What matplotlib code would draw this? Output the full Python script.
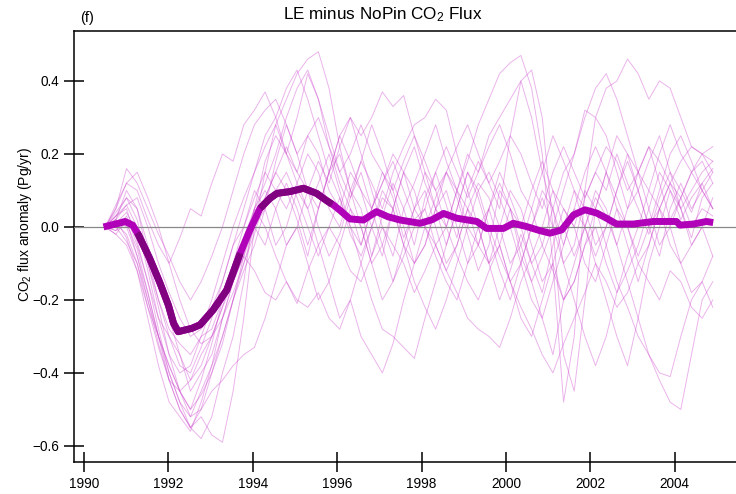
import matplotlib.pyplot as plt
import numpy as np

plt.rcParams["font.family"] = ["Liberation Sans", "DejaVu Sans"]
plt.rcParams["mathtext.fontset"] = "custom"
plt.rcParams["mathtext.rm"] = "Liberation Sans"
plt.rcParams["mathtext.it"] = "Liberation Sans:italic"

# ensemble members, roughly quarterly from 1990.5 to 2004.9, in hundredths of Pg/yr
member_start = 1990.5
member_end = 2004.9
members_cpg = [
    [0, 3, 5, -4, -15, -28, -40, -48, -55, -52, -57, -59, -45, -25, 0, 15, 28, 35, 42, 46,
     48, 38, 22, 10, 5, -8, 3, 12, 5, -5, 8, 15, 6, -3, 10, 18, 12, 5, 25, 40,
     30, 15, 5, -10, -5, 8, 15, 10, 20, 12, 5, -2, 8, 15, 10, 4, 12, 16],
    [0, -2, 2, -8, -20, -32, -42, -50, -55, -58, -52, -40, -30, -15, 5, 12, 20, 30, 38, 43,
     35, 25, 15, 8, 18, 28, 20, 10, 0, -10, -5, 5, 15, 8, -2, -12, -5, 10, 5, -8,
     -15, -25, -35, -20, -10, 0, 8, 3, -5, 5, 15, 22, 12, 2, 8, 15, 18, 12],
    [0, 2, -3, -12, -25, -38, -48, -52, -56, -48, -38, -30, -20, -10, -2, 8, 15, 10, 2, -8,
     5, 15, 25, 30, 20, 10, 0, -8, 5, 12, 20, 28, 18, 10, 18, 28, 35, 42, 45, 47,
     38, 20, -10, -48, -30, 10, 30, 25, 15, 5, 10, 0, -8, 5, 12, 5, 10, 15],
    [0, 4, 8, 2, -10, -22, -35, -45, -50, -46, -40, -32, -20, -8, 5, 18, 25, 20, 30, 42,
     35, 22, 12, 5, -5, 5, 15, 8, -3, 5, 15, 10, 0, 10, 20, 15, 25, 30, 35, 40,
     43, 30, 0, -35, -45, -20, 5, 15, 25, 20, 10, 18, 25, 15, 5, 10, 15, 18],
    [0, 6, 12, 10, 2, -5, -10, -3, 5, 3, 12, 20, 18, 28, 32, 37, 30, 20, 15, 25,
     20, 10, 5, 15, 10, 0, -8, 5, 15, 22, 12, 5, -5, 5, 15, 8, -2, -12, -20, -10,
     0, 10, 5, -5, 5, 15, 22, 15, 5, -5, -15, -5, 5, 12, 5, -3, 8, 12],
    [0, 2, 10, 5, -8, -20, -30, -38, -40, -33, -25, -15, -5, 5, 15, 25, 30, 38, 43, 35,
     25, 15, 20, 10, 0, -10, -20, -15, -5, 5, 10, 0, -10, -5, 5, 12, 8, 0, -10, -5,
     5, 15, 25, 18, 10, 0, -10, -20, -30, -38, -25, -10, 0, 10, 5, -5, 0, 8],
    [0, 1, -2, -10, -22, -33, -42, -45, -42, -35, -30, -22, -12, -3, 5, 10, 5, -5, 0, 10,
     18, 12, 22, 30, 25, 30, 37, 33, 36, 25, 15, 5, 0, 10, 5, -5, -10, 0, 10, 5,
     -5, -15, -10, 0, 10, 5, -5, 0, 10, 20, 15, 5, -5, 0, 8, 15, 10, 5],
    [0, 3, 6, 0, -12, -25, -35, -40, -38, -30, -22, -15, -5, 0, 8, 15, 10, 5, 12, 20,
     15, 5, 0, 10, 18, 12, 5, 15, 22, 28, 30, 35, 32, 20, 10, 0, -10, -5, 5, 0,
     -10, -5, 5, 15, 20, 30, 38, 42, 35, 25, 15, 10, 20, 28, 20, 15, 20, 22],
    [0, -1, 3, -5, -15, -25, -30, -35, -45, -40, -35, -25, -18, -10, 0, -5, 5, 12, 5, -5,
     5, 15, 8, -2, -8, 0, 10, 5, -5, -10, 0, 8, 15, 10, 0, -5, 5, 12, 5, -5,
     -15, -8, 0, 10, 20, 32, 30, 38, 40, 46, 42, 35, 40, 38, 30, 22, 20, 18],
    [0, 2, 0, -8, -18, -30, -38, -45, -50, -42, -32, -20, -10, 0, 10, 5, -5, 0, 10, 5,
     -5, -15, -25, -20, -30, -35, -40, -32, -20, -10, -5, 5, 10, 0, -10, -5, 5, 15, 8, 0,
     10, 18, 10, 0, -8, 0, 10, 5, -5, -15, -25, -35, -42, -48, -50, -35, -20, -15],
    [0, 1, 4, -2, -10, -20, -28, -32, -35, -30, -28, -20, -12, -5, 0, 5, 10, 15, 8, 0,
     -8, 0, 8, 0, -10, -20, -28, -30, -33, -36, -25, -15, -5, 5, 15, 10, 0, -8, -15, -10,
     0, 8, 0, -10, -20, -30, -38, -30, -18, -8, 0, 10, 5, -5, -10, -5, 0, -8],
    [0, -2, -5, -12, -22, -30, -38, -45, -52, -50, -45, -42, -38, -35, -33, -25, -15, -5, 0, -10,
     -20, -15, -5, 5, 0, -10, -5, 5, 15, 10, 0, -8, -15, -20, -10, 0, 5, -5, -15, -25,
     -30, -20, -10, -20, -15, -5, 5, 15, 8, 0, -10, -5, 5, 0, -10, -18, -15, -22],
    [0, 3, 8, 5, -5, -15, -25, -35, -42, -38, -30, -22, -15, -8, 0, 8, 15, 22, 15, 10,
     5, 15, 25, 18, 10, 5, 12, 20, 15, 5, 0, -5, -12, -18, -25, -28, -30, -33, -25, -15,
     -8, 0, 10, 5, 0, 10, 5, -5, -15, -22, -30, -35, -40, -41, -30, -20, -15, -8],
    [0, 5, 12, 15, 8, 0, -10, -20, -28, -32, -30, -25, -15, -5, 5, 0, -8, -15, -20, -22,
     -18, -25, -28, -20, -10, 0, 8, 5, -5, -15, -22, -28, -20, -10, 0, 10, 15, 8, 0, -10,
     -20, -25, -15, -5, 5, 0, -8, 0, 10, 18, 10, 0, 5, 12, 8, 0, 5, 3],
    [0, 5, 16, 12, 5, -2, -8, -15, -20, -15, -8, 0, 10, 20, 28, 32, 35, 28, 20, 25,
     30, 22, 15, 20, 28, 20, 15, 10, 18, 25, 18, 10, 15, 22, 28, 20, 12, 18, 25, 20,
     12, 5, 15, 22, 15, 8, 15, 22, 18, 10, 15, 22, 18, 12, 18, 22, 20, 15],
    [0, 0, -4, -10, -20, -30, -40, -48, -52, -45, -38, -25, -15, -8, -12, -18, -20, -15, -21, -12,
     -5, 0, -5, -12, -15, -8, 0, -5, -10, -18, -12, -5, 0, -8, -15, -20, -12, -5, -15, -22,
     -28, -35, -40, -32, -25, -18, -10, -15, -22, -18, -10, -15, -20, -12, -15, -22, -25, -20],
    [0, 2, 6, 8, 0, -10, -18, -25, -30, -28, -20, -10, 0, 8, 15, 22, 28, 20, 12, 5,
     12, 20, 10, 0, -5, 5, 12, 18, 10, 2, 5, 15, 22, 15, 8, 15, 22, 28, 20, 10,
     5, -5, -12, -20, -15, -5, 0, -10, -18, -12, -5, 5, 15, 10, 2, 8, 12, 5],
    [0, -1, 1, -6, -18, -30, -42, -50, -55, -50, -40, -30, -20, -12, -5, 5, 18, 28, 20, 10,
     0, -8, -2, 8, 15, 5, -5, -15, -8, 0, 5, -5, -12, -5, 5, 0, -10, -20, -12, -2,
     -10, -18, -5, 5, 0, -10, -15, -5, 5, 0, -8, 0, 10, 20, 25, 18, 10, 5],
]

# ensemble mean (Pg/yr)
mean_year = [1990.46, 1990.75, 1990.97, 1991.15, 1991.29, 1991.55, 1991.8, 1992.0,
             1992.12, 1992.23, 1992.4, 1992.55, 1992.75, 1993.06, 1993.38, 1993.7,
             1993.93, 1994.17, 1994.4, 1994.57, 1994.88, 1995.2, 1995.51, 1995.75,
             1995.91, 1996.07, 1996.3, 1996.62, 1996.93, 1997.2, 1997.49, 1997.96,
             1998.25, 1998.52, 1998.83, 1999.31, 1999.54, 1999.94, 2000.17, 2000.49,
             2000.8, 2001.04, 2001.32, 2001.6, 2001.87, 2002.15, 2002.38, 2002.62,
             2003.02, 2003.49, 2004.04, 2004.12, 2004.44, 2004.75, 2004.91]
mean_flux = [0.0, 0.008, 0.015, 0.005, -0.022, -0.085, -0.154, -0.215,
             -0.264, -0.287, -0.282, -0.278, -0.268, -0.227, -0.173, -0.072,
             -0.008, 0.051, 0.078, 0.092, 0.097, 0.106, 0.092, 0.072,
             0.060, 0.045, 0.022, 0.019, 0.042, 0.028, 0.019, 0.010,
             0.020, 0.037, 0.024, 0.015, -0.004, -0.004, 0.010, 0.001,
             -0.010, -0.017, -0.008, 0.033, 0.047, 0.038, 0.024, 0.008,
             0.008, 0.015, 0.015, 0.005, 0.008, 0.015, 0.012]

# periods where the mean is significant
sig_spans = [(1991.26, 1993.70), (1994.17, 1995.88)]

xticks = [1990, 1992, 1994, 1996, 1998, 2000, 2002, 2004]
yticks = [-0.6, -0.4, -0.2, 0.0, 0.2, 0.4]

fig = plt.figure(figsize=(7.36, 4.94), dpi=100)
ax = fig.add_axes([0.1005, 0.0648, 0.8995, 0.8725])

for vals in members_cpg:
    t = np.linspace(member_start, member_end, len(vals))
    ax.plot(t, np.array(vals) / 100.0, color="#cc44cc", lw=0.7, alpha=0.4, zorder=2)

ax.axhline(0.0, color="#888888", lw=0.9, zorder=3)

my = np.array(mean_year)
mf = np.array(mean_flux)
ax.plot(my, mf, color="#b000b8", lw=5, solid_capstyle="butt", zorder=4)
for a, b in sig_spans:
    inside = (my > a) & (my < b)
    xs = np.concatenate([[a], my[inside], [b]])
    ys = np.interp(xs, my, mf)
    ax.plot(xs, ys, color="#800080", lw=5, solid_capstyle="butt", zorder=5)

ax.set_xlim(1989.76, 2005.45)
ax.set_ylim(-0.644, 0.537)
ax.set_xticks(xticks)
ax.set_yticks(yticks)
ax.set_yticklabels([f"{v:.1f}".replace("-", "\u2212") for v in yticks])
ax.tick_params(direction="inout", length=15, width=1.1, labelsize=9.8, pad=3)
ax.spines["right"].set_visible(False)
for s in ("left", "bottom", "top"):
    ax.spines[s].set_linewidth(1.1)

ax.set_ylabel("CO$_2$ flux anomaly (Pg/yr)", fontsize=10)
ax.yaxis.set_label_coords(-0.06, 0.551)

fig.text(383 / 736, 1 - 15 / 494, "LE minus NoPin CO$_2$ Flux", ha="center", va="center", fontsize=12.3)
fig.text(80 / 736, 1 - 18 / 494, "(f)", ha="left", va="center", fontsize=10.5)

fig.savefig("out.png", dpi=100)
